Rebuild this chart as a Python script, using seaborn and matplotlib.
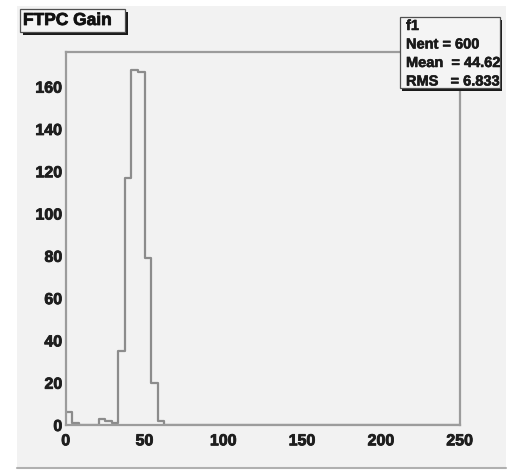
import numpy as np
import pandas as pd
import matplotlib
matplotlib.use("Agg")
import matplotlib.pyplot as plt
import matplotlib.patheffects as pe
from matplotlib.patches import Rectangle
from matplotlib.ticker import MultipleLocator
import seaborn as sns

# FTPC gain histogram: 60 bins over [0, 250]
n_bins = 60
x_range = (0.0, 250.0)
bin_index = [0, 1, 5, 6, 7, 8, 9, 10, 11, 12, 13, 14, 15]
bin_counts = [6, 1, 3, 2, 1, 35, 117, 168, 167, 79, 20, 2, 0]

title_text = "FTPC Gain"
stats_lines = ["f1", "Nent = 600", "Mean  = 44.62", "RMS   = 6.833"]
x_major = [0, 50, 100, 150, 200, 250]
y_major = [0, 20, 40, 60, 80, 100, 120, 140, 160]

width = (x_range[1] - x_range[0]) / n_bins
centers = [x_range[0] + (i + 0.5) * width for i in bin_index]
df = pd.DataFrame({"gain": centers, "count": bin_counts})

sns.set_theme(style="white")
plt.rcParams["font.family"] = ["Liberation Sans", "DejaVu Sans"]
plt.rcParams["font.weight"] = "bold"

W, H = 508, 475
fig = plt.figure(figsize=(W / 100, H / 100), dpi=100)
fig.patch.set_facecolor("white")

heavy = [pe.withStroke(linewidth=0.6, foreground="#1e1e1e")]


def fx(px):
    return px / W


def fy(py):
    return 1 - py / H


# canvas pad
fig.patches.append(Rectangle((fx(17), fy(469)), fx(506) - fx(17), fy(6) - fy(469),
                             transform=fig.transFigure, facecolor="#f2f2f2",
                             edgecolor="none", zorder=-2))
fig.lines.append(plt.Line2D([fx(17), fx(506)], [fy(468), fy(468)],
                            transform=fig.transFigure, color="#b0b0b0", lw=1.5,
                            zorder=-1))

ax = fig.add_axes([fx(65.7), fy(425), fx(459.7) - fx(65.7), fy(52) - fy(425)])
ax.set_zorder(1)
ax.set_facecolor("#f2f2f2")

sns.histplot(data=df, x="gain", weights="count", bins=n_bins, binrange=x_range,
             element="step", fill=False, color="#8c8c8c", linewidth=1.6, ax=ax)

ax.set_xlim(*x_range)
ax.set_ylim(0, max(bin_counts) * 1.05)
ax.set_xlabel("")
ax.set_ylabel("")
for s in ax.spines.values():
    s.set_color("#9c9c9c")
    s.set_linewidth(1.6)

ax.set_xticks(x_major)
ax.set_yticks(y_major)
ax.xaxis.set_minor_locator(MultipleLocator(25))
ax.yaxis.set_minor_locator(MultipleLocator(4))
ax.tick_params(axis="x", which="major", direction="in", length=8.5, width=1.2,
               color="#808080", pad=6, labelsize=11.5, labelcolor="#1e1e1e")
ax.tick_params(axis="x", which="minor", direction="in", length=5, width=1.2,
               color="#808080")
ax.tick_params(axis="y", which="major", direction="in", length=6, width=1.2,
               color="#808080", pad=2.5, labelsize=11.5, labelcolor="#1e1e1e")
ax.tick_params(axis="y", which="minor", direction="in", length=3, width=1.0,
               color="#808080")
for lab in ax.get_xticklabels() + ax.get_yticklabels():
    lab.set_fontweight("bold")
    lab.set_path_effects(heavy)


# boxes with drop shadow, drawn above the plot frame
def shadow_box(x0, y0, x1, y1):
    fig.patches.append(Rectangle((fx(x0 + 2.5), fy(y1 + 2.5)), fx(x1) - fx(x0), fy(y0) - fy(y1),
                                 transform=fig.transFigure, facecolor="#1a1a1a",
                                 edgecolor="none", zorder=5))
    fig.patches.append(Rectangle((fx(x0), fy(y1)), fx(x1) - fx(x0), fy(y0) - fy(y1),
                                 transform=fig.transFigure, facecolor="#f4f4f4",
                                 edgecolor="#505050", linewidth=0.9, zorder=6))


shadow_box(20, 9, 125, 32)
fig.text(fx(23), fy(20.5), title_text, fontsize=12.5, fontweight="bold",
         color="#111111", va="center", ha="left", zorder=7, path_effects=heavy)

shadow_box(399.5, 17, 499.5, 88)
line_y = [26, 44.5, 63, 81.5]
for t, yy in zip(stats_lines, line_y):
    fig.text(fx(406), fy(yy), t, fontsize=10.5, fontweight="bold",
             color="#1a1a1a", va="center", ha="left", zorder=7,
             path_effects=[pe.withStroke(linewidth=0.4, foreground="#1a1a1a")])

fig.savefig("out.png", dpi=100)
